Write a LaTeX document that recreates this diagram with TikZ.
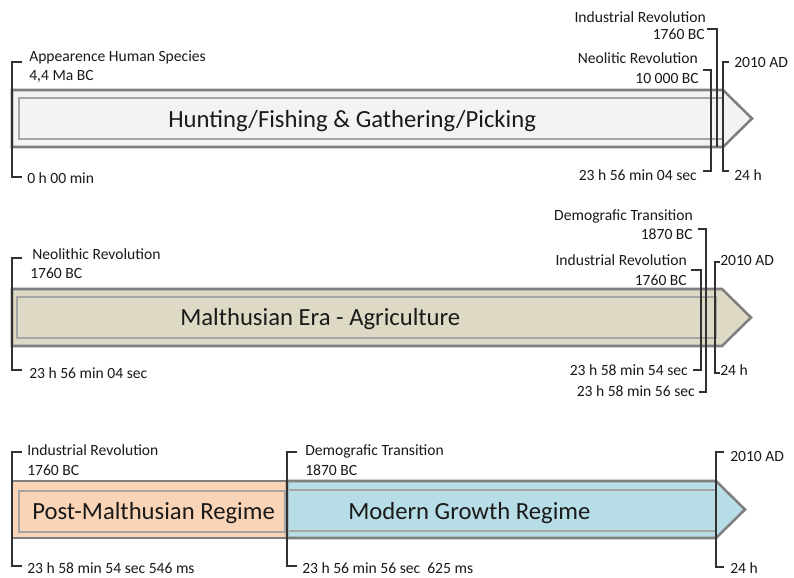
\documentclass[tikz,border=0pt]{standalone}
\usepackage{fontspec}
\setmainfont{Carlito}
\definecolor{edge}{HTML}{7F7F7F}
\definecolor{innerc}{HTML}{A5A5A5}
\definecolor{huntfill}{HTML}{F2F3F2}
\definecolor{malfill}{HTML}{DDD9C4}
\definecolor{postfill}{HTML}{FAD4B6}
\definecolor{modfill}{HTML}{B7DDE6}
\definecolor{ink}{HTML}{1A1A1A}
\begin{document}
\begin{tikzpicture}[x=0.75pt,y=-0.75pt,
  era/.style={draw=edge, line width=1.9pt, line join=miter},
  innerbox/.style={draw=innerc, line width=0.9pt},
  lbl/.style={font=\fontsize{11.7}{14}\selectfont, text=ink, inner sep=0pt},
  big/.style={font=\fontsize{18.5}{22}\selectfont, text=ink, inner sep=0pt},
  brk/.style={draw=ink!90, line width=0.8pt},
]
\useasboundingbox[fill=white] (0,0) rectangle (794,578);

% ---------- Row 1 ----------
\path[era, fill=huntfill] (12,90) -- (723,90) -- (752,118.5) -- (723,147) -- (12,147) -- cycle;
\draw[innerbox] (19,98) rectangle (723,139);
\node[big, anchor=base west] (hunt) at (168,127) {Hunting/Fishing \& Gathering/Picking};

\node[lbl, anchor=base west] (ahs) at (29,61) {Appearence Human Species};
\node[lbl, anchor=base west] (ahsd) at (29,80) {4,4 Ma BC};
\node[lbl, anchor=base west] (ahst) at (27,183) {0 h 00 min};
\coordinate (b1a) at (22,62); \coordinate (b1b) at (12,62);
\coordinate (b1c) at (12,177); \coordinate (b1d) at (22,177);
\draw[brk] (b1a) -- (b1b) -- (b1c) -- (b1d);

\node[lbl, anchor=base east] (ir1) at (706,22) {Industrial Revolution};
\node[lbl, anchor=base east] (ir1d) at (705,40) {1760 BC};
\coordinate (b2a) at (707,29); \coordinate (b2b) at (717,29); \coordinate (b2c) at (717,147);
\draw[brk] (b2a) -- (b2b) -- (b2c);

\node[lbl, anchor=base east] (nr1) at (698,63) {Neolitic Revolution};
\node[lbl, anchor=base east] (nr1d) at (699,83) {10 000 BC};
\node[lbl, anchor=base east] (nr1t) at (697,180) {23 h 56 min 04 sec};
\coordinate (b3a) at (703,70); \coordinate (b3b) at (711,70);
\coordinate (b3c) at (711,171); \coordinate (b3d) at (703,171);
\draw[brk] (b3a) -- (b3b) -- (b3c) -- (b3d);

\node[lbl, anchor=base west] (ad1) at (734,67) {2010 AD};
\node[lbl, anchor=base west] (ad1t) at (734,180) {24 h};
\coordinate (b4a) at (729,62); \coordinate (b4b) at (723,62);
\coordinate (b4c) at (723,171); \coordinate (b4d) at (729,171);
\draw[brk] (b4a) -- (b4b) -- (b4c) -- (b4d);

% ---------- Row 2 ----------
\path[era, fill=malfill] (12,289) -- (722,289) -- (751,317.5) -- (722,346) -- (12,346) -- cycle;
\draw[innerbox] (17,297) rectangle (716,338);
\node[big, anchor=base west] (mal) at (180,325) {Malthusian Era - Agriculture};

\node[lbl, anchor=base west] (nr2) at (32,259) {Neolithic Revolution};
\node[lbl, anchor=base west] (nr2d) at (30,278) {1760 BC};
\node[lbl, anchor=base west] (nr2t) at (29,378) {23 h 56 min 04 sec};
\coordinate (c1a) at (22,258); \coordinate (c1b) at (12,258);
\coordinate (c1c) at (12,370); \coordinate (c1d) at (22,370);
\draw[brk] (c1a) -- (c1b) -- (c1c) -- (c1d);

\node[lbl, anchor=base east] (dt2) at (693,220) {Demografic Transition};
\node[lbl, anchor=base east] (dt2d) at (693,239) {1870 BC};
\node[lbl, anchor=base east] (dt2t) at (695,396) {23 h 58 min 56 sec};
\coordinate (c2a) at (698,229); \coordinate (c2b) at (706,229);
\coordinate (c2c) at (706,392); \coordinate (c2d) at (699,392);
\draw[brk] (c2a) -- (c2b) -- (c2c) -- (c2d);

\node[lbl, anchor=base east] (ir2) at (687,265) {Industrial Revolution};
\node[lbl, anchor=base east] (ir2d) at (687,285) {1760 BC};
\node[lbl, anchor=base east] (ir2t) at (688,375) {23 h 58 min 54 sec};
\coordinate (c3a) at (691,270); \coordinate (c3b) at (701,270);
\coordinate (c3c) at (701,370); \coordinate (c3d) at (693,370);
\draw[brk] (c3a) -- (c3b) -- (c3c) -- (c3d);

\node[lbl, anchor=base west] (ad2) at (720,265) {2010 AD};
\node[lbl, anchor=base west] (ad2t) at (720,375) {24 h};
\coordinate (c4a) at (720,262); \coordinate (c4b) at (715,262);
\coordinate (c4c) at (715,373); \coordinate (c4d) at (720,373);
\draw[brk] (c4a) -- (c4b) -- (c4c) -- (c4d);

% ---------- Row 3 ----------
\path[era, fill=postfill] (12,481) rectangle (287,538);
\path[era, fill=modfill] (287,481) -- (716,481) -- (745,509.5) -- (716,538) -- (287,538) -- cycle;
\draw[innerbox] (19,491) rectangle (285,532);
\draw[innerbox] (289,490) -- (716,490);
\draw[innerbox] (289,531) -- (716,531);
\node[big, anchor=base west] (post) at (32,519) {Post-Malthusian Regime};
\node[big, anchor=base west] (mod) at (348,519) {Modern Growth Regime};

\node[lbl, anchor=base west] (ir3) at (27,455) {Industrial Revolution};
\node[lbl, anchor=base west] (ir3d) at (27,475) {1760 BC};
\node[lbl, anchor=base west] (ir3t) at (27,573) {23 h 58 min 54 sec 546 ms};
\coordinate (d1a) at (22,452); \coordinate (d1b) at (12,452);
\coordinate (d1c) at (12,566); \coordinate (d1d) at (22,566);
\draw[brk] (d1a) -- (d1b) -- (d1c) -- (d1d);

\node[lbl, anchor=base west] (dt3) at (305,455) {Demografic Transition};
\node[lbl, anchor=base west] (dt3d) at (305,475) {1870 BC};
\node[lbl, anchor=base west] (dt3t) at (302,573) {23 h 56 min 56 sec\ \ 625 ms};
\coordinate (d2a) at (297,452); \coordinate (d2b) at (287,452);
\coordinate (d2c) at (287,566); \coordinate (d2d) at (297,566);
\draw[brk] (d2a) -- (d2b) -- (d2c) -- (d2d);

\node[lbl, anchor=base west] (ad3) at (730,461) {2010 AD};
\node[lbl, anchor=base west] (ad3t) at (730,573) {24 h};
\coordinate (d3a) at (724,452); \coordinate (d3b) at (716,452);
\coordinate (d3c) at (716,567); \coordinate (d3d) at (724,567);
\draw[brk] (d3a) -- (d3b) -- (d3c) -- (d3d);
\end{tikzpicture}
\end{document}
